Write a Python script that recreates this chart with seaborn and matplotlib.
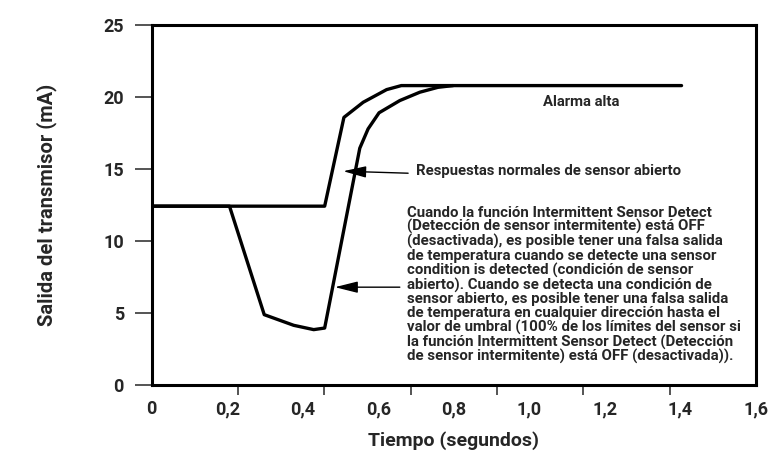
import numpy as np
import pandas as pd
import matplotlib
matplotlib.use("Agg")
import matplotlib.pyplot as plt
import seaborn as sns

# Curva de respuesta normal (sube directo desde la linea base)
tiempo_a = [0.0, 0.458, 0.509, 0.560, 0.622, 0.661, 1.403]
salida_a = [12.43, 12.43, 18.6, 19.65, 20.53, 20.81, 20.81]

# Curva con caida falsa antes de subir a alarma alta
tiempo_b = [0.0, 0.206, 0.298, 0.376, 0.429, 0.458, 0.551, 0.573, 0.602,
            0.657, 0.710, 0.758, 0.798]
salida_b = [12.43, 12.43, 4.89, 4.15, 3.85, 3.96, 16.46, 17.8, 18.92,
            19.77, 20.35, 20.69, 20.81]

x_ticks = [0, 0.2, 0.4, 0.6, 0.8, 1.0, 1.2, 1.4, 1.6]
x_labels = ["0", "0,2", "0,4", "0,6", "0,8", "1,0", "1,2", "1,4", "1,6"]
y_ticks = [0, 5, 10, 15, 20, 25]

texto_alarma = "Alarma alta"
texto_normal = "Respuestas normales de sensor abierto"
texto_nota = ("Cuando la función Intermittent Sensor Detect\n"
              "(Detección de sensor intermitente) está OFF\n"
              "(desactivada), es posible tener una falsa salida\n"
              "de temperatura cuando se detecte una sensor\n"
              "condition is detected (condición de sensor\n"
              "abierto). Cuando se detecta una condición de\n"
              "sensor abierto, es posible tener una falsa salida\n"
              "de temperatura en cualquier dirección hasta el\n"
              "valor de umbral (100% de los límites del sensor si\n"
              "la función Intermittent Sensor Detect (Detección\n"
              "de sensor intermitente) está OFF (desactivada)).")

sns.set_style("white")
plt.rcParams["font.family"] = ["Roboto", "DejaVu Sans"]
plt.rcParams["font.weight"] = "bold"

df_a = pd.DataFrame({"t": tiempo_a, "mA": salida_a})
df_b = pd.DataFrame({"t": tiempo_b, "mA": salida_b})

fig = plt.figure(figsize=(7.72, 4.55), dpi=100)
ax = fig.add_axes([0.1965, 0.1538, 0.7827, 0.7906])

sns.lineplot(data=df_a, x="t", y="mA", color="black", linewidth=2.4,
             sort=False, estimator=None, ax=ax)
sns.lineplot(data=df_b, x="t", y="mA", color="black", linewidth=2.4,
             sort=False, estimator=None, ax=ax)

ax.set_xlim(0, 1.6)
ax.set_ylim(0, 25)

# etiquetas en 0,2 pasos; marcas del eje repartidas en 7 tramos como el original
ax.set_xticks(x_ticks)
ax.set_xticklabels(x_labels)
ax.set_xticks(np.linspace(0, 1.6, 8), minor=True)
ax.tick_params(axis="x", which="major", length=0, pad=11, labelsize=13)
ax.tick_params(axis="x", which="minor", length=7, width=1.1, direction="out",
               bottom=True)
ax.set_yticks(y_ticks)
ax.tick_params(axis="y", which="major", length=12, width=1.1, direction="out",
               pad=8, labelsize=13, left=True)
for lbl in ax.get_xticklabels() + ax.get_yticklabels():
    lbl.set_fontweight("bold")

for s in ax.spines.values():
    s.set_linewidth(2.2)
    s.set_color("black")

ax.set_xlabel("Tiempo (segundos)", fontsize=14, fontweight="bold", labelpad=9)
ax.set_ylabel("Salida del transmisor (mA)", fontsize=14.5, fontweight="bold",
              labelpad=33)

ax.text(1.036, 19.7, texto_alarma, fontsize=10.7, fontweight="bold",
        ha="left", va="center")

flecha = dict(arrowstyle="-|>,head_length=1.4,head_width=0.35",
              color="black", lw=1, mutation_scale=10, shrinkA=0, shrinkB=0)
ax.annotate("", xy=(0.507, 14.86), xytext=(0.679, 14.72), arrowprops=flecha)
ax.text(0.701, 14.84, texto_normal, fontsize=10.7, fontweight="bold",
        ha="left", va="center")

ax.annotate("", xy=(0.485, 6.8), xytext=(0.657, 6.8), arrowprops=flecha)
ax.text(0.676, 6.95, texto_nota, fontsize=10.8, fontweight="bold",
        ha="left", va="center", linespacing=0.98)

fig.savefig("out.png", dpi=100)
